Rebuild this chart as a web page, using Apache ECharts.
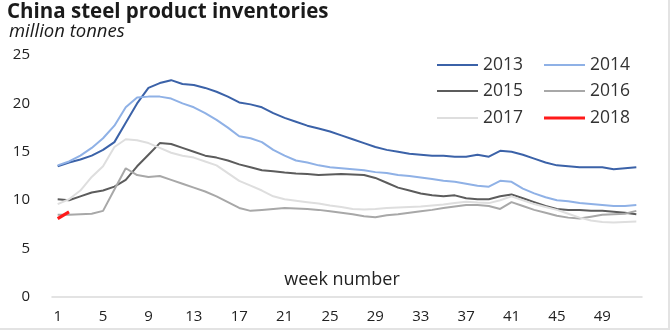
<!DOCTYPE html>
<html>
<head>
<meta charset="utf-8">
<script src="https://cdn.jsdelivr.net/npm/echarts@6/dist/echarts.min.js"></script>
<style>
html,body{margin:0;padding:0;background:#fff;}
#frame{position:absolute;left:0;top:0;width:670px;height:330px;box-sizing:border-box;border-right:2px solid #e3e3e3;border-bottom:2px solid #e3e3e3;}
#chart{position:absolute;left:0;top:0;width:670px;height:330px;}
</style>
</head>
<body>
<div id="chart"></div>
<div id="frame"></div>
<script>
var weeks = [];
for (var i = 1; i <= 52; i++) weeks.push(String(i));

var s2013 = [13.5,13.9,14.2,14.6,15.2,16.0,18.0,20.0,21.6,22.1,22.4,22.0,21.9,21.6,21.2,20.7,20.1,19.9,19.6,19.0,18.5,18.1,17.7,17.4,17.1,16.7,16.3,15.9,15.5,15.2,15.0,14.8,14.7,14.6,14.6,14.5,14.5,14.7,14.5,15.1,15.0,14.7,14.3,13.9,13.6,13.5,13.4,13.4,13.4,13.2,13.3,13.4];
var s2014 = [13.6,14.0,14.6,15.4,16.4,17.7,19.6,20.6,20.7,20.7,20.5,20.0,19.6,19.0,18.3,17.5,16.6,16.4,16.0,15.2,14.6,14.1,13.9,13.6,13.4,13.3,13.2,13.1,12.9,12.8,12.6,12.5,12.35,12.2,12.0,11.9,11.7,11.5,11.4,12.0,11.9,11.2,10.7,10.3,10.0,9.9,9.7,9.6,9.5,9.4,9.4,9.5];
var s2015 = [10.1,10.0,10.4,10.8,11.0,11.4,12.1,13.5,14.7,15.9,15.8,15.4,15.0,14.6,14.4,14.1,13.7,13.4,13.1,13.0,12.85,12.75,12.7,12.6,12.65,12.7,12.65,12.6,12.3,11.8,11.3,11.0,10.7,10.5,10.4,10.5,10.2,10.1,10.1,10.4,10.6,10.2,9.8,9.4,9.1,9.0,9.0,8.9,8.9,8.8,8.7,8.55];
var s2016 = [8.5,8.5,8.55,8.6,8.9,11.1,13.3,12.6,12.4,12.5,12.1,11.7,11.3,10.9,10.4,9.8,9.2,8.9,9.0,9.1,9.2,9.15,9.1,9.0,8.85,8.7,8.55,8.35,8.25,8.45,8.55,8.7,8.85,9.0,9.2,9.35,9.5,9.5,9.4,9.1,9.8,9.4,9.0,8.7,8.4,8.2,8.1,8.3,8.5,8.55,8.6,8.9];
var s2017 = [9.6,10.1,11.0,12.4,13.5,15.5,16.3,16.2,15.9,15.4,14.9,14.6,14.4,14.0,13.6,12.8,12.0,11.5,11.0,10.4,10.1,9.95,9.8,9.65,9.45,9.3,9.1,9.05,9.1,9.2,9.25,9.3,9.35,9.45,9.55,9.7,9.85,9.75,9.7,10.0,10.4,10.0,9.6,9.3,9.0,8.6,8.2,7.9,7.75,7.7,7.75,7.8];
var s2018 = [8.1,8.8];

var seriesNames = ['2013','2014','2015','2016','2017','2018'];
var seriesData = [s2013,s2014,s2015,s2016,s2017,s2018];
var colors = ['#3b62a8','#8fb1e6','#5c5c5c','#a8a8a8','#dedede','#ff1a1a'];
var widths = [2,2,2,2,2,3.2];

var FONT = 'Open Sans';
var chart = echarts.init(document.getElementById('chart'), null, {renderer:'canvas'});

var legendPos = [
  {left:437, top:56},{left:544, top:56},
  {left:437, top:82},{left:544, top:82},
  {left:437, top:109},{left:544, top:109}
];
var legends = seriesNames.map(function(n, i){
  return {
    data:[{name:n, icon:'rect'}], left:legendPos[i].left, top:legendPos[i].top,
    itemWidth:41, itemHeight: i === 5 ? 3 : 2, padding:0,
    textStyle:{fontFamily:FONT, fontSize:17.5, lineHeight:14, color:'#333'}
  };
});

var series = seriesNames.map(function(n, i){
  return {
    name:n, type:'line', data:seriesData[i], symbol:'none', smooth:false,
    lineStyle:{color:colors[i], width:widths[i]}, itemStyle:{color:colors[i]},
    z: i === 5 ? 10 : 2
  };
});

chart.setOption({
  animation:false,
  backgroundColor:'#fff',
  title:[
    {text:'China steel product inventories', left:7, top:2, padding:0,
     textStyle:{fontFamily:FONT, fontWeight:'bold', fontSize:20.5, color:'#1a1a1a'}},
    {text:'million tonnes', left:9, top:22, padding:0,
     textStyle:{fontFamily:FONT, fontStyle:'italic', fontWeight:'normal', fontSize:18.5, color:'#1a1a1a'}}
  ],
  legend: legends,
  grid:{left:52, right:28, top:55, bottom:33, containLabel:false},
  graphic:[{type:'text', x:342, y:280,
    style:{text:'week number', font:'18px "Open Sans"', fill:'#222', textAlign:'center', textVerticalAlign:'middle'}}],
  xAxis:{
    type:'category', data:weeks, boundaryGap:true,
    axisLine:{show:true, lineStyle:{color:'#dadada', width:1.5}},
    axisTick:{show:false},
    axisLabel:{interval:3, margin:12, fontFamily:FONT, fontSize:15, color:'#222'},
    splitLine:{show:false}
  },
  yAxis:{
    type:'value', min:0, max:25, interval:5,
    axisLine:{show:false}, axisTick:{show:false},
    axisLabel:{margin:22, fontFamily:FONT, fontSize:15, color:'#222'},
    splitLine:{show:false}
  },
  series: series
});
</script>
</body>
</html>
